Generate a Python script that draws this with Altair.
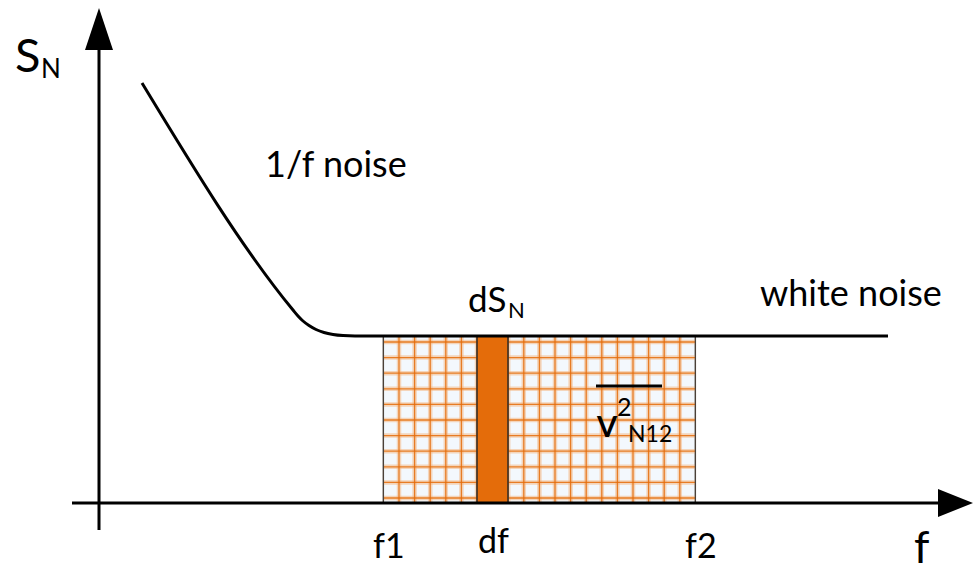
import altair as alt
import numpy as np
import pandas as pd

# Noise spectral density S_N versus frequency f (schematic units, origin at the axes' crossing)
curve_f = [43, 194, 199, 204, 210, 217, 225, 234, 244, 256, 789]
curve_s = [420, 193, 187, 182, 177.5, 173.5, 170.5, 168.5, 167.4, 167, 167]

white_level = 167          # white-noise floor
band_f1, band_f2 = 284.4, 596.4   # integration band f1..f2
slice_lo, slice_hi = 378, 409     # the narrow df slice
hatch_pitch = 15.6
hatch_first_row = 5

axis_f_min, axis_f_max = -27, 839
axis_s_min, axis_s_max = -27, 453
arrow_len, arrow_half = 35, 14

# Text labels: (text, f, S, font size)
label_text = ["S", "N", "1/f noise", "white noise", "dS", "N", "f1", "df", "f2", "f", "2", "N12"]
label_f = [-84, -58, 166, 661, 369, 409, 274, 379, 586, 815, 518, 529]
label_s = [431, 425, 326, 197, 191, 185, -55, -50, -55, -60, 87, 61]
label_size = [47, 26, 36, 36, 35, 22, 34, 34, 34, 44, 25, 23]

F_DOMAIN = [-99, 874]
S_DOMAIN = [-68, 503]
ORANGE = "#E46C0A"
FONT = "Lato"


def X(field="f"):
    return alt.X(f"{field}:Q", scale=alt.Scale(domain=F_DOMAIN, nice=False, zero=False), axis=None)


def Y(field="s"):
    return alt.Y(f"{field}:Q", scale=alt.Scale(domain=S_DOMAIN, nice=False, zero=False), axis=None)


# hatched band f1..f2 under the white-noise floor
band = alt.Chart(pd.DataFrame({"f": [band_f1], "f2": [band_f2], "s": [0], "s2": [white_level]})).mark_rect(
    fill="#F3F8FD", stroke="#4a4038", strokeWidth=1.2
).encode(x=X(), x2="f2:Q", y=Y(), y2="s2:Q")

cols = band_f1 + hatch_pitch * np.arange(1, 20)
rows = hatch_first_row + hatch_pitch * np.arange(0, 11)
vlines = pd.DataFrame({"f": cols, "s": 0.0, "s2": float(white_level)})
hlines = pd.DataFrame({"f": band_f1, "f2": band_f2, "s": rows})

v_halo = alt.Chart(vlines).mark_rule(color="#F5B27A", strokeWidth=4.5, opacity=0.5).encode(x=X(), y=Y(), y2="s2:Q")
h_halo = alt.Chart(hlines).mark_rule(color="#F5B27A", strokeWidth=4.5, opacity=0.5).encode(x=X(), x2="f2:Q", y=Y())
v_core = alt.Chart(vlines).mark_rule(color=ORANGE, strokeWidth=1.3, opacity=0.85).encode(x=X(), y=Y(), y2="s2:Q")
h_core = alt.Chart(hlines).mark_rule(color=ORANGE, strokeWidth=1.3, opacity=0.85).encode(x=X(), x2="f2:Q", y=Y())

band_edges = alt.Chart(pd.DataFrame({"f": [band_f1, band_f2], "s": [0, 0], "s2": [white_level, white_level]})).mark_rule(
    color="#4a4038", strokeWidth=1.3
).encode(x=X(), y=Y(), y2="s2:Q")

# solid df slice
slice_bar = alt.Chart(pd.DataFrame({"f": [slice_lo], "f2": [slice_hi], "s": [0], "s2": [white_level]})).mark_rect(
    fill=ORANGE, stroke="#2b2b2b", strokeWidth=1.5
).encode(x=X(), x2="f2:Q", y=Y(), y2="s2:Q")

# spectrum curve
curve = alt.Chart(pd.DataFrame({"f": curve_f, "s": curve_s})).mark_line(
    color="black", strokeWidth=3, interpolate="monotone"
).encode(x=X(), y=Y())

# axes with arrowheads
x_axis = alt.Chart(pd.DataFrame({"f": [axis_f_min], "f2": [axis_f_max], "s": [0]})).mark_rule(
    color="black", strokeWidth=3
).encode(x=X(), x2="f2:Q", y=Y())
y_axis = alt.Chart(pd.DataFrame({"f": [0], "s": [axis_s_min], "s2": [axis_s_max]})).mark_rule(
    color="black", strokeWidth=3
).encode(x=X(), y=Y(), y2="s2:Q")

y_head = alt.Chart(pd.DataFrame({
    "f": [-arrow_half, 0, arrow_half],
    "s": [axis_s_max, axis_s_max + arrow_len + 7, axis_s_max],
    "s2": [axis_s_max] * 3,
})).mark_area(color="black", orient="vertical", interpolate="linear").encode(x=X(), y=Y(), y2="s2:Q")

x_head = alt.Chart(pd.DataFrame({
    "s": [-arrow_half, 0, arrow_half],
    "f": [axis_f_max, axis_f_max + arrow_len, axis_f_max],
    "f2": [axis_f_max] * 3,
})).mark_area(color="black", orient="horizontal", interpolate="linear").encode(y=Y(), x=X(), x2="f2:Q")

# mean-square voltage symbol: overline, V, superscript 2, subscript N12
overline = alt.Chart(pd.DataFrame({"f": [497], "f2": [563], "s": [117]})).mark_rule(
    color="black", strokeWidth=3
).encode(x=X(), x2="f2:Q", y=Y())
v_text = alt.Chart(pd.DataFrame({"f": [498], "s": [66], "t": ["V"]})).mark_text(
    font=FONT, fontSize=29, fontWeight="bold", align="left", baseline="alphabetic", color="black"
).encode(x=X(), y=Y(), text="t:N")

labels = alt.Chart(pd.DataFrame({"f": label_f, "s": label_s, "t": label_text, "size": label_size})).mark_text(
    font=FONT, align="left", baseline="alphabetic", color="black"
).encode(x=X(), y=Y(), text="t:N", size=alt.Size("size:Q", scale=None, legend=None))

chart = alt.layer(
    band, h_halo, v_halo, h_core, v_core, band_edges, slice_bar,
    curve, x_axis, y_axis, y_head, x_head, overline, v_text, labels,
).properties(
    width=973, height=571, background="white", padding=0, autosize=alt.AutoSizeParams(type="none")
).configure_view(stroke=None)

chart.save("out.html", embed_options={"renderer": "svg", "actions": False})
